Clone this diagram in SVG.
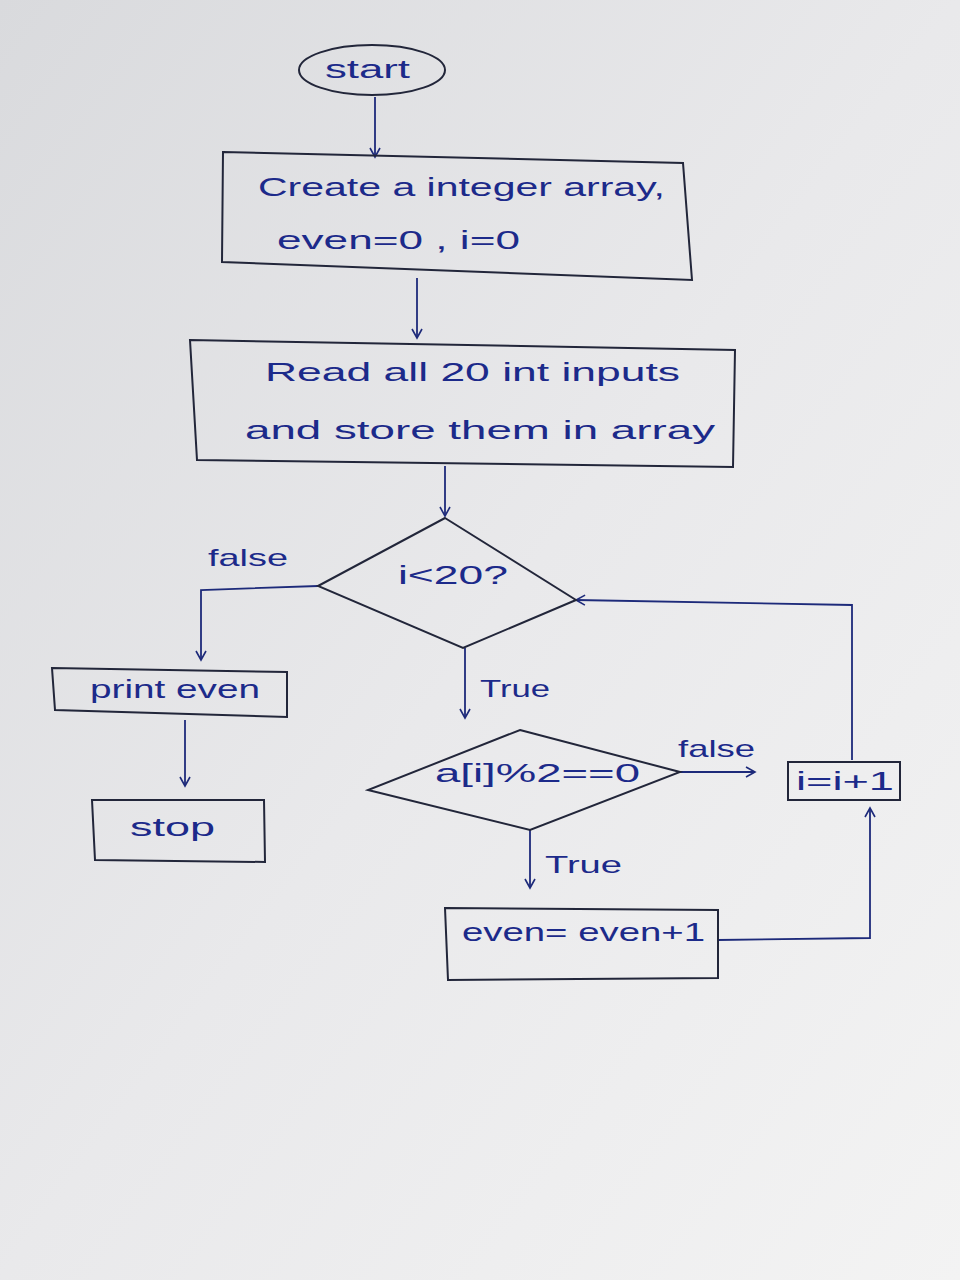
<svg xmlns="http://www.w3.org/2000/svg" width="960" height="1280" viewBox="0 0 960 1280">
<defs>
<linearGradient id="paper" x1="0" y1="0" x2="1" y2="1">
<stop offset="0" stop-color="#d9dadd"/>
<stop offset="0.5" stop-color="#e9e9eb"/>
<stop offset="1" stop-color="#f3f3f3"/>
</linearGradient>
<marker id="ah" viewBox="0 0 12 12" refX="10" refY="6" markerWidth="12" markerHeight="12" markerUnits="userSpaceOnUse" orient="auto">
<path d="M1,1 L10,6 L1,11" fill="none" stroke="#1d2a7a" stroke-width="1.6"/>
</marker>
<style>
.shape{fill:none;stroke:#22263a;stroke-width:2}
.edge{fill:none;stroke:#1d2a7a;stroke-width:1.8;marker-end:url(#ah)}
.t{font-family:"Liberation Sans","DejaVu Sans",sans-serif;font-size:25px;fill:#1c2a8a}
.l{font-family:"Liberation Sans","DejaVu Sans",sans-serif;font-size:24px;fill:#1c2a8a}
</style>
</defs>
<rect width="960" height="1280" fill="url(#paper)"/>

<g id="connectors">
<path class="edge" d="M375,97 L375,157"/>
<path class="edge" d="M417,278 L417,338"/>
<path class="edge" d="M445,466 L445,516"/>
<path class="edge" d="M318,586 L201,590 L201,660"/>
<path class="edge" d="M185,720 L185,786"/>
<path class="edge" d="M465,648 L465,718"/>
<path class="edge" d="M680,772 L755,772"/>
<path class="edge" d="M852,760 L852,605 L576,600"/>
<path class="edge" d="M530,830 L530,888"/>
<path class="edge" d="M718,940 L870,938 L870,808"/>
</g>

<g id="start">
<ellipse class="shape" cx="372" cy="70" rx="73" ry="25"/>
<text class="t" x="325" y="78" textLength="85" lengthAdjust="spacingAndGlyphs">start</text>
</g>

<g id="init">
<polygon class="shape" points="223,152 683,163 692,280 222,262"/>
<text class="t" x="258" y="196" textLength="407" lengthAdjust="spacingAndGlyphs">Create a integer array,</text>
<text class="t" x="277" y="249" textLength="243" lengthAdjust="spacingAndGlyphs">even=0 , i=0</text>
</g>

<g id="read">
<polygon class="shape" points="190,340 735,350 733,467 197,460"/>
<text class="t" x="265" y="381" textLength="415" lengthAdjust="spacingAndGlyphs">Read all 20 int inputs</text>
<text class="t" x="245" y="439" textLength="470" lengthAdjust="spacingAndGlyphs">and store them in array</text>
</g>

<g id="cond1">
<polygon class="shape" points="445,518 576,600 463,648 318,586"/>
<text class="t" x="398" y="584" textLength="110" lengthAdjust="spacingAndGlyphs">i&lt;20?</text>
</g>

<g id="print">
<polygon class="shape" points="52,668 287,672 287,717 55,710"/>
<text class="t" x="90" y="698" textLength="170" lengthAdjust="spacingAndGlyphs">print even</text>
</g>

<g id="stop">
<polygon class="shape" points="92,800 264,800 265,862 95,860"/>
<text class="t" x="130" y="836" textLength="85" lengthAdjust="spacingAndGlyphs">stop</text>
</g>

<g id="cond2">
<polygon class="shape" points="520,730 680,772 530,830 368,790"/>
<text class="t" x="435" y="782" textLength="205" lengthAdjust="spacingAndGlyphs">a[i]%2==0</text>
</g>

<g id="incr">
<rect class="shape" x="788" y="762" width="112" height="38"/>
<text class="t" x="796" y="790" textLength="98" lengthAdjust="spacingAndGlyphs">i=i+1</text>
</g>

<g id="count">
<polygon class="shape" points="445,908 718,910 718,978 448,980"/>
<text class="t" x="462" y="941" textLength="243" lengthAdjust="spacingAndGlyphs">even= even+1</text>
</g>

<g id="labels">
<text class="l" x="208" y="566" textLength="80" lengthAdjust="spacingAndGlyphs">false</text>
<text class="l" x="480" y="697" textLength="70" lengthAdjust="spacingAndGlyphs">True</text>
<text class="l" x="678" y="757" textLength="77" lengthAdjust="spacingAndGlyphs">false</text>
<text class="l" x="545" y="873" textLength="77" lengthAdjust="spacingAndGlyphs">True</text>
</g>
</svg>
